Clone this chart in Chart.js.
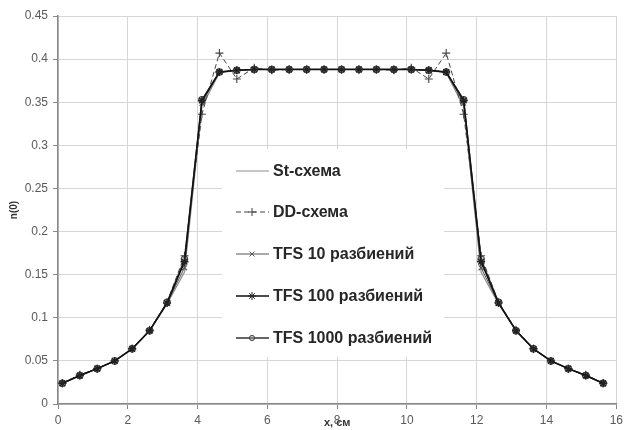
<!DOCTYPE html>
<html>
<head>
<meta charset="utf-8">
<script src="https://cdn.jsdelivr.net/npm/chart.js@4.4.1/dist/chart.umd.min.js"></script>
<style>
  html, body { margin: 0; padding: 0; background: #fff; }
  #wrap { width: 627px; height: 430px; }
</style>
</head>
<body>
<div id="wrap"><canvas id="myChart" width="627" height="430"></canvas></div>
<script>
// x coordinates of the grid nodes, cm
const xNodes = [0.125, 0.625, 1.125, 1.625, 2.125, 2.625, 3.125, 3.625, 4.125, 4.625, 5.125, 5.625, 6.125, 6.625, 7.125, 7.625,
                8.125, 8.625, 9.125, 9.625, 10.125, 10.625, 11.125, 11.625, 12.125, 12.625, 13.125, 13.625, 14.125, 14.625, 15.125, 15.625];

const seriesNames = ["St-схема", "DD-схема", "TFS 10 разбиений", "TFS 100 разбиений", "TFS 1000 разбиений"];

const stValues = [0.024, 0.033, 0.041, 0.050, 0.064, 0.085, 0.116, 0.153, 0.345, 0.384, 0.387, 0.388, 0.388, 0.388, 0.388, 0.388,
                  0.388, 0.388, 0.388, 0.388, 0.388, 0.387, 0.384, 0.345, 0.153, 0.116, 0.085, 0.064, 0.050, 0.041, 0.033, 0.024];
const ddValues = [0.024, 0.034, 0.041, 0.050, 0.064, 0.086, 0.118, 0.172, 0.336, 0.407, 0.377, 0.390, 0.387, 0.388, 0.388, 0.388,
                  0.388, 0.388, 0.388, 0.387, 0.390, 0.377, 0.407, 0.336, 0.172, 0.118, 0.086, 0.064, 0.050, 0.041, 0.034, 0.024];
const tfs10Values = [0.024, 0.033, 0.041, 0.050, 0.064, 0.085, 0.117, 0.158, 0.349, 0.385, 0.387, 0.388, 0.388, 0.388, 0.388, 0.388,
                     0.388, 0.388, 0.388, 0.388, 0.388, 0.387, 0.385, 0.349, 0.158, 0.117, 0.085, 0.064, 0.050, 0.041, 0.033, 0.024];
const tfs100Values = [0.024, 0.033, 0.041, 0.050, 0.064, 0.085, 0.117, 0.165, 0.352, 0.385, 0.387, 0.388, 0.388, 0.388, 0.388, 0.388,
                      0.388, 0.388, 0.388, 0.388, 0.388, 0.387, 0.385, 0.352, 0.165, 0.117, 0.085, 0.064, 0.050, 0.041, 0.033, 0.024];
const tfs1000Values = [0.024, 0.033, 0.041, 0.050, 0.064, 0.085, 0.118, 0.168, 0.353, 0.385, 0.387, 0.388, 0.388, 0.388, 0.388, 0.388,
                       0.388, 0.388, 0.388, 0.388, 0.388, 0.387, 0.385, 0.353, 0.168, 0.118, 0.085, 0.064, 0.050, 0.041, 0.033, 0.024];

const yTicks = [0, 0.05, 0.1, 0.15, 0.2, 0.25, 0.3, 0.35, 0.4, 0.45];
const xTicks = [0, 2, 4, 6, 8, 10, 12, 14, 16];

function pts(vals) {
  return vals.map(function (v, i) { return { x: xNodes[i], y: v }; });
}

const datasets = [
  { label: seriesNames[0], data: pts(stValues), borderColor: "#8c8c8c", borderWidth: 1.2,
    pointRadius: 0, order: 5 },
  { label: seriesNames[1], data: pts(ddValues), borderColor: "#444", borderWidth: 1, borderDash: [5, 3],
    pointStyle: "cross", pointRadius: 4, pointBorderColor: "#444", pointBorderWidth: 1.1, order: 4 },
  { label: seriesNames[2], data: pts(tfs10Values), borderColor: "#555", borderWidth: 1,
    pointStyle: "crossRot", pointRadius: 3.5, pointBorderColor: "#555", pointBorderWidth: 1.1, order: 3 },
  { label: seriesNames[3], data: pts(tfs100Values), borderColor: "#111", borderWidth: 1.5,
    pointStyle: "star", pointRadius: 4, pointBorderColor: "#222", pointBorderWidth: 1.4, order: 1 },
  { label: seriesNames[4], data: pts(tfs1000Values), borderColor: "#333", borderWidth: 1.3,
    pointStyle: "circle", pointRadius: 3.2, pointBorderColor: "#444", pointBackgroundColor: "rgba(150,150,150,0.45)",
    pointBorderWidth: 1.1, order: 2 }
];
datasets.forEach(function (d) { d.showLine = true; d.fill = false; d.tension = 0; d.backgroundColor = d.pointBackgroundColor || "rgba(0,0,0,0)"; });

// legend drawn inside the plot, Excel style
const innerLegend = {
  id: "innerLegend",
  beforeDatasetsDraw(chart) {
    const ctx = chart.ctx;
    ctx.save();
    ctx.fillStyle = "#fff";
    ctx.fillRect(222, 149, 222, 208);
    const rows = [171, 212, 254, 296, 338];
    chart.data.datasets.forEach(function (ds, i) {
      const y = rows[i];
      ctx.strokeStyle = ds.borderColor;
      ctx.lineWidth = ds.borderWidth;
      ctx.setLineDash(ds.borderDash || []);
      ctx.beginPath();
      ctx.moveTo(236, y);
      ctx.lineTo(269, y);
      ctx.stroke();
      ctx.setLineDash([]);
      if (ds.pointRadius > 0 && Chart.helpers && Chart.helpers.drawPoint) {
        ctx.strokeStyle = ds.pointBorderColor;
        ctx.fillStyle = ds.pointBackgroundColor || "rgba(0,0,0,0)";
        ctx.lineWidth = 1;
        const r = ds.pointStyle === "circle" ? ds.pointRadius - 0.6 : ds.pointRadius;
        Chart.helpers.drawPoint(ctx, { pointStyle: ds.pointStyle, rotation: 0, radius: r, borderWidth: 1 }, 252, y);
      }
      ctx.fillStyle = "#262626";
      ctx.font = "bold 16px 'Liberation Sans', Arial, sans-serif";
      ctx.textBaseline = "middle";
      ctx.textAlign = "left";
      ctx.fillText(ds.label, 273, y + 1);
    });
    ctx.restore();
  }
};

new Chart("myChart", {
  type: "scatter",
  data: { datasets: datasets },
  plugins: [innerLegend],
  options: {
    responsive: false,
    animation: false,
    devicePixelRatio: 1,
    layout: { padding: { top: 16, right: 7, left: 0, bottom: 0 } },
    plugins: {
      legend: { display: false },
      tooltip: { enabled: false }
    },
    scales: {
      x: {
        type: "linear",
        min: 0,
        max: 16,
        afterBuildTicks: function (axis) { axis.ticks = xTicks.map(function (v) { return { value: v }; }); },
        afterFit: function (axis) { axis.height = 26; },
        grid: { color: "#d6d6d6", tickColor: "#888", tickLength: 5, lineWidth: 1 },
        border: { color: "#888", width: 1.5 },
        ticks: { color: "#5a5a5a", padding: 4, maxRotation: 0, font: { family: "'Liberation Sans', Arial, sans-serif", size: 12 } },
        title: { display: true, text: "x, см", color: "#333", padding: 0,
                 font: { family: "'Liberation Sans', Arial, sans-serif", size: 11, weight: "bold" } }
      },
      y: {
        min: 0,
        max: 0.45,
        afterBuildTicks: function (axis) { axis.ticks = yTicks.map(function (v) { return { value: v }; }); },
        afterFit: function (axis) { axis.width = 58; },
        grid: { color: "#d6d6d6", tickColor: "#888", tickLength: 5, lineWidth: 1 },
        border: { color: "#888", width: 1.5 },
        ticks: {
          color: "#5a5a5a", padding: 5,
          font: { family: "'Liberation Sans', Arial, sans-serif", size: 12 },
          callback: function (v) { return String(Number(v.toFixed(2))); }
        },
        title: { display: true, text: "n(0)", color: "#333", padding: { top: 8, bottom: 0 },
                 font: { family: "'Liberation Sans', Arial, sans-serif", size: 10, weight: "bold" } }
      }
    }
  }
});
</script>
</body>
</html>
